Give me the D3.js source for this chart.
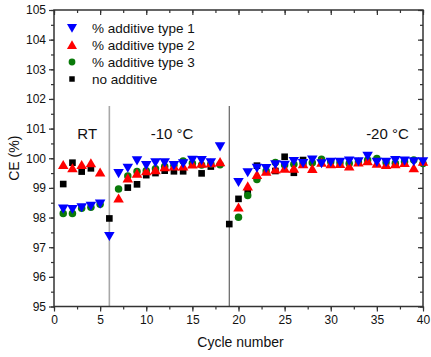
<!DOCTYPE html>
<html><head><meta charset="utf-8">
<script src="https://cdn.jsdelivr.net/npm/d3@7"></script>
<style>body{margin:0;background:#fff}svg{display:block}text{font-family:Arial,"Liberation Sans",sans-serif}</style>
</head><body>
<svg id="c" width="431" height="357"></svg>
<script>
const cycles = d3.range(1, 41);
// null = no visible point
const type1 = [98.30,98.29,98.35,98.40,98.47,97.38,99.50,99.68,99.93,99.77,99.86,99.86,99.77,99.83,99.95,99.94,99.86,100.40,null,99.20,99.53,99.68,99.67,99.80,99.78,99.91,99.84,99.96,99.83,99.88,99.88,99.92,99.90,100.08,99.88,99.88,99.94,99.92,99.90,99.90];
const type2 = [99.77,99.66,99.77,99.83,99.52,null,98.64,99.32,99.48,99.56,99.60,99.70,99.72,99.72,99.79,99.82,99.83,99.87,null,98.34,99.05,99.44,99.55,99.62,99.65,99.65,99.80,99.64,99.85,99.80,99.81,99.72,99.86,99.90,99.82,99.77,99.80,99.84,99.66,99.88];
const type3 = [98.14,98.14,98.31,98.35,98.45,null,98.96,99.40,99.55,99.58,99.65,99.72,99.76,99.91,99.83,99.77,99.81,99.78,null,98.01,98.74,99.28,99.57,99.86,99.77,99.80,99.82,99.85,99.97,99.88,99.85,99.82,99.87,99.94,99.99,99.86,99.83,99.88,99.94,99.82];
const noAdd = [99.13,99.85,99.55,99.66,null,97.97,null,99.01,99.12,99.43,99.50,99.58,99.56,99.56,null,99.49,99.72,null,97.78,98.63,98.88,99.75,null,99.57,100.05,99.51,99.94,null,null,null,null,null,null,null,null,null,null,null,null,null];
const seriesNames = ["% additive type 1","% additive type 2","% additive type 3","no additive"];
const xTicks = [0,5,10,15,20,25,30,35,40];
const yTicks = [95,96,97,98,99,100,101,102,103,104,105];
const regionLabels = ["RT","-10 °C","-20 °C"];
const regionLabelX = [3.6,12.8,36.15];
const regionLabelY = [100.65,100.65,100.65];
const dividers = [6,19];

const svg = d3.select("#c");
const L=54,R=423,T=10,B=306.5;
const x = d3.scaleLinear().domain([0,40]).range([L,R]);
const y = d3.scaleLinear().domain([95,105]).range([B,T]);
const axisCol="#333";

// dividers
svg.selectAll("line.div").data(dividers).join("line")
  .attr("x1",d=>x(d)).attr("x2",d=>x(d)).attr("y1",106).attr("y2",B)
  .attr("stroke",(d,i)=>i===0?"#a8a8a8":"#555").attr("stroke-width",(d,i)=>i===0?1.6:1.1);

// axes
function styleAxis(g){g.select(".domain").remove();g.selectAll("line").attr("stroke",axisCol).attr("stroke-width",1.2);g.selectAll("text").attr("font-size",12).attr("fill","#111");}
const xMinor = d3.range(0,40.01,2.5);
const yMinor = d3.range(95,105.01,0.5);
svg.append("g").attr("transform",`translate(0,${B})`).call(d3.axisBottom(x).tickValues(xMinor).tickSize(3).tickFormat("")).call(styleAxis);
svg.append("g").attr("transform",`translate(0,${B})`).call(d3.axisBottom(x).tickValues(xTicks).tickSize(5).tickPadding(4).tickFormat(d3.format("d"))).call(styleAxis);
svg.append("g").attr("transform",`translate(${L},0)`).call(d3.axisLeft(y).tickValues(yMinor).tickSize(3).tickFormat("")).call(styleAxis);
svg.append("g").attr("transform",`translate(${L},0)`).call(d3.axisLeft(y).tickValues(yTicks).tickSize(5).tickPadding(3).tickFormat(d3.format("d"))).call(styleAxis);
// top & right inward ticks
svg.append("g").attr("transform",`translate(0,${T})`).call(d3.axisBottom(x).tickValues(xMinor).tickSize(3).tickFormat("")).call(styleAxis);
svg.append("g").attr("transform",`translate(0,${T})`).call(d3.axisBottom(x).tickValues(xTicks).tickSize(5).tickFormat("")).call(styleAxis);
svg.append("g").attr("transform",`translate(${R},0)`).call(d3.axisLeft(y).tickValues(yMinor).tickSize(3).tickFormat("")).call(styleAxis);
svg.append("g").attr("transform",`translate(${R},0)`).call(d3.axisLeft(y).tickValues(yTicks).tickSize(5).tickFormat("")).call(styleAxis);
svg.append("rect").attr("x",L).attr("y",T).attr("width",R-L).attr("height",B-T).attr("fill","none").attr("stroke",axisCol).attr("stroke-width",1.5);

// markers
const sym = {
  down: d3.symbol().type(d3.symbolTriangle).size(48),
  up: d3.symbol().type(d3.symbolTriangle).size(48),
  circle: d3.symbol().type(d3.symbolCircle).size(44),
  square: d3.symbol().type(d3.symbolSquare).size(44)
};
const series = [
  {vals:noAdd, color:"#000000", shape:"square"},
  {vals:type3, color:"#0a7a0a", shape:"circle"},
  {vals:type2, color:"#ff0000", shape:"up"},
  {vals:type1, color:"#0000ff", shape:"down"}
];
function place(shape,cx,cy){
  if(shape==="down") return `translate(${cx},${cy-1}) rotate(180)`;
  if(shape==="up") return `translate(${cx},${cy+1})`;
  return `translate(${cx},${cy})`;
}
series.forEach(s=>{
  const pts = cycles.map((c,i)=>({c,v:s.vals[i]})).filter(d=>d.v!=null);
  svg.append("g").selectAll("path").data(pts).join("path")
    .attr("d",sym[s.shape]()).attr("fill",s.color)
    .attr("transform",d=>place(s.shape,x(d.c),y(d.v)));
});

// legend
const legShapes=["down","up","circle","square"], legCols=["#0000ff","#ff0000","#0a7a0a","#000000"];
const legY=[28,45,62,79];
seriesNames.forEach((n,i)=>{
  const sz = legShapes[i]==="square"?30:(legShapes[i]==="circle"?36:44);
  svg.append("path").attr("d",d3.symbol().type(legShapes[i]==="circle"?d3.symbolCircle:legShapes[i]==="square"?d3.symbolSquare:d3.symbolTriangle).size(sz)())
    .attr("fill",legCols[i]).attr("transform",place(legShapes[i],72,legY[i]));
  svg.append("text").attr("x",92).attr("y",legY[i]+5).attr("font-size",13.5).attr("fill","#111").text(n);
});

// region labels
regionLabels.forEach((t,i)=>{
  svg.append("text").attr("x",x(regionLabelX[i])).attr("y",y(regionLabelY[i])).attr("text-anchor","middle").attr("font-size",15).attr("fill","#111").text(t);
});

// axis titles
svg.append("text").attr("x",(L+R)/2+2).attr("y",347).attr("text-anchor","middle").attr("font-size",14).attr("fill","#111").text("Cycle number");
svg.append("text").attr("transform",`translate(19,${(T+B)/2}) rotate(-90)`).attr("text-anchor","middle").attr("font-size",14).attr("fill","#111").text("CE (%)");
</script>
</body></html>
